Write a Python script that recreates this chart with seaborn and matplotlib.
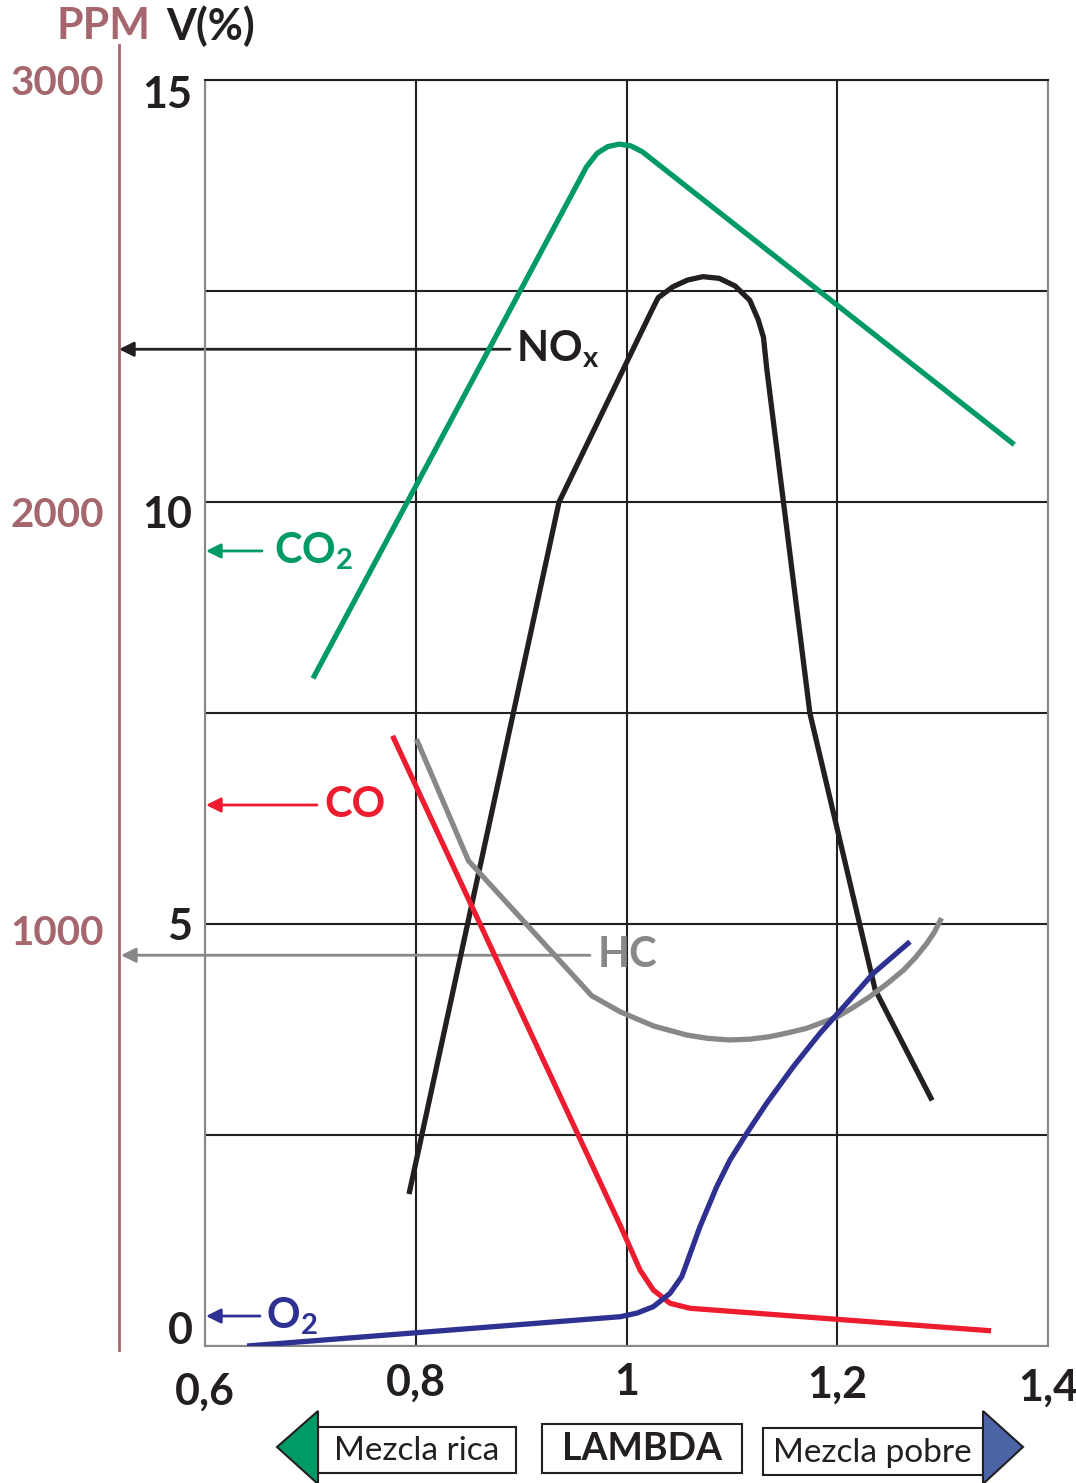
import matplotlib
matplotlib.use("Agg")
import matplotlib.pyplot as plt
import matplotlib.transforms as mtransforms
import numpy as np
import pandas as pd
import seaborn as sns
from matplotlib.patches import Rectangle, Polygon

# ---------------- data ----------------
co2_x = [0.7025, 0.962, 0.972, 0.982, 0.993, 1.004, 1.015, 1.368]
co2_y = [7.91, 13.97, 14.13, 14.21, 14.24, 14.22, 14.15, 10.68]

nox_x = [0.7936, 0.936, 1.024, 1.030, 1.044, 1.058, 1.0726, 1.088, 1.103,
         1.117, 1.125, 1.130, 1.133, 1.174, 1.236, 1.290]
nox_y = [1.80, 10.0, 12.27, 12.42, 12.55, 12.63, 12.67, 12.65, 12.56,
         12.39, 12.16, 11.95, 11.59, 7.5, 4.22, 2.91]

hc_x = [0.8007, 0.850, 0.967, 0.994, 1.026, 1.057, 1.077, 1.098, 1.117, 1.136,
        1.153, 1.171, 1.185, 1.200, 1.215, 1.231, 1.247, 1.263, 1.274, 1.285,
        1.292, 1.299]
hc_y = [7.19, 5.75, 4.15, 3.96, 3.79, 3.685, 3.645, 3.626, 3.635, 3.665,
        3.71, 3.764, 3.83, 3.90, 4.01, 4.14, 4.29, 4.455, 4.60, 4.77,
        4.90, 5.07]

co_x = [0.778, 0.994, 1.004, 1.0128, 1.0255, 1.0413, 1.0603, 1.200, 1.346]
co_y = [7.23, 1.43, 1.15, 0.90, 0.663, 0.506, 0.447, 0.316, 0.18]

o2_x = [0.640, 0.994, 1.010, 1.0255, 1.0413, 1.0524, 1.0571, 1.0697, 1.0856,
        1.0982, 1.1141, 1.133, 1.1583, 1.1836, 1.209, 1.2342, 1.269]
o2_y = [0.0, 0.347, 0.39, 0.466, 0.624, 0.821, 0.98, 1.414, 1.888,
        2.204, 2.52, 2.876, 3.31, 3.705, 4.06, 4.416, 4.79]

x_ticks = [0.6, 0.8, 1.0, 1.2, 1.4]
x_ticklabels = ["0,6", "0,8", "1", "1,2", "1,4"]
y_ticks = [0, 2.5, 5, 7.5, 10, 12.5, 15]
y_ticklabels = ["0", "", "5", "", "10", "", "15"]
ppm_ticks = [1000, 2000, 3000]
ppm_ticklabels = ["1000", "2000", "3000"]

label_names = ["NO$_\\mathregular{x}$", "CO$_\\mathregular{2}$", "CO", "HC", "O$_\\mathregular{2}$"]
label_levels = [11.81, 9.42, 6.41, 4.63, 0.355]

# ---------------- style ----------------
sns.set_theme(style="white")
plt.rcParams["font.family"] = ["Lato", "DejaVu Sans"]
plt.rcParams["mathtext.fontset"] = "custom"
plt.rcParams["mathtext.rm"] = "Lato:bold"
plt.rcParams["mathtext.it"] = "Lato:bold"
plt.rcParams["mathtext.bf"] = "Lato:bold"

GREEN = "#009a66"
RED = "#ed1c2e"
BLUE = "#2e3192"
GRAY = "#888888"
BLACK = "#231f20"
ROSE = "#a5676d"

W, H = 1076, 1483
fig = plt.figure(figsize=(W / 100, H / 100), dpi=100)

def fx(px):
    return px / W

def fy(py):
    return 1 - py / H

ax = fig.add_axes([fx(205), fy(1346), fx(1048) - fx(205), fy(80) - fy(1346)])

df = pd.concat([
    pd.DataFrame({"lam": co2_x, "val": co2_y, "gas": "CO2"}),
    pd.DataFrame({"lam": nox_x, "val": nox_y, "gas": "NOx"}),
    pd.DataFrame({"lam": hc_x, "val": hc_y, "gas": "HC"}),
    pd.DataFrame({"lam": co_x, "val": co_y, "gas": "CO"}),
    pd.DataFrame({"lam": o2_x, "val": o2_y, "gas": "O2"}),
], ignore_index=True)
palette = {"CO2": GREEN, "NOx": BLACK, "HC": GRAY, "CO": RED, "O2": BLUE}

ax.set_xlim(0.6, 1.4)
ax.set_ylim(0, 15)
ax.set_xticks(x_ticks)
ax.set_xticklabels(x_ticklabels)
ax.set_yticks(y_ticks)
ax.set_yticklabels(y_ticklabels)
ax.grid(True, color=BLACK, linewidth=1.5, zorder=0)
ax.set_axisbelow(True)
for side in ["left", "bottom", "right"]:
    ax.spines[side].set_color(GRAY)
    ax.spines[side].set_linewidth(1.5)
ax.spines["top"].set_color(BLACK)
ax.spines["top"].set_linewidth(1.5)
ax.tick_params(axis="both", length=0, labelsize=31, colors=BLACK)
ax.tick_params(axis="x", pad=14)
ax.tick_params(axis="y", pad=9)
for t in ax.get_xticklabels() + ax.get_yticklabels():
    t.set_fontweight("bold")

# per-label vertical nudges (pixels, +down) to mimic reference placement
y_nudge = {"0": -18, "5": 0, "10": 9, "15": 12}
x_nudge = {"0,6": 6, "0,8": -3, "1": -3, "1,2": -1, "1,4": 2}
for t in ax.get_yticklabels():
    dy = y_nudge.get(t.get_text(), 0)
    t.set_transform(t.get_transform() + mtransforms.ScaledTranslation(0, -dy / 100, fig.dpi_scale_trans))
for t in ax.get_xticklabels():
    dy = x_nudge.get(t.get_text(), 0)
    t.set_transform(t.get_transform() + mtransforms.ScaledTranslation(0, -dy / 100, fig.dpi_scale_trans))

# arrows + labels
px2x = lambda px: 0.6 + (px - 205) / 1053.75
arrow_tail_px = [510, 262, 317, 590, 260]
arrow_tip_px = [119, 206, 206, 121, 206]
text_px = [516, 274, 324, 598, 266]
label_colors = [BLACK, GREEN, RED, GRAY, BLUE]
for name, lev, tail, tip, tx, col in zip(label_names, label_levels, arrow_tail_px,
                                          arrow_tip_px, text_px, label_colors):
    ax.annotate("", xy=(px2x(tip), lev), xytext=(px2x(tail), lev),
                arrowprops=dict(arrowstyle="-|>", color=col, lw=2,
                                mutation_scale=22, shrinkA=0, shrinkB=0),
                annotation_clip=False, zorder=2)
    ax.text(px2x(tx), lev, name, color=col, fontsize=30, fontweight="bold",
            ha="left", va="center", zorder=3)

sns.lineplot(data=df, x="lam", y="val", hue="gas", palette=palette, sort=False,
             estimator=None, legend=False, ax=ax, zorder=4)
for ln in ax.get_lines():
    ln.set_linewidth(3.8)
    ln.set_solid_joinstyle("round")
    ln.set_solid_capstyle("butt")
ax.set_xlabel("")
ax.set_ylabel("")

# PPM axis
ax_ppm = fig.add_axes([fx(119), fy(1350), 0.0001, fy(45) - fy(1350)])
ax_ppm.set_ylim(-9.5, 3083)
ax_ppm.set_xticks([])
ax_ppm.set_yticks(ppm_ticks)
ax_ppm.set_yticklabels(ppm_ticklabels)
ax_ppm.patch.set_alpha(0)
for side in ["top", "bottom", "right"]:
    ax_ppm.spines[side].set_visible(False)
ax_ppm.spines["left"].set_color(ROSE)
ax_ppm.spines["left"].set_linewidth(2)
ax_ppm.tick_params(axis="y", length=0, pad=11, labelsize=29, colors=ROSE)
ppm_nudge = {"1000": 6, "2000": 10, "3000": 0}
for t in ax_ppm.get_yticklabels():
    t.set_fontweight("bold")
    dy = ppm_nudge.get(t.get_text(), 0)
    t.set_transform(t.get_transform() + mtransforms.ScaledTranslation(0, -dy / 100, fig.dpi_scale_trans))

fig.text(fx(151), fy(26), "PPM", color=ROSE, fontsize=31, fontweight="bold",
         ha="right", va="center")
fig.text(fx(166), fy(26), "V(%)", color=BLACK, fontsize=31, fontweight="bold",
         ha="left", va="center")

# bottom boxes (overlay in pixel coordinates)
ov = fig.add_axes([0, 0, 1, 1])
ov.set_xlim(0, W)
ov.set_ylim(H, 0)
ov.axis("off")
ov.add_patch(Rectangle((318, 1427), 198, 46, facecolor="white", edgecolor=BLACK, lw=1.5))
ov.add_patch(Polygon([(318, 1411), (318, 1484), (277, 1447)], closed=True,
                     facecolor=GREEN, edgecolor=BLACK, lw=1.5))
ov.text(417, 1451, "Mezcla rica", fontsize=24, fontweight="normal", color=BLACK,
        ha="center", va="center")
ov.add_patch(Rectangle((542, 1424), 200, 49, facecolor="white", edgecolor=BLACK, lw=1.5))
ov.text(642, 1449, "LAMBDA", fontsize=27, fontweight="bold", color=BLACK,
        ha="center", va="center")
ov.add_patch(Rectangle((763, 1428), 220, 47, facecolor="white", edgecolor=BLACK, lw=1.5))
ov.add_patch(Polygon([(983, 1411), (983, 1484), (1023, 1447)], closed=True,
                     facecolor="#4a64a6", edgecolor=BLACK, lw=1.5))
ov.text(872, 1453, "Mezcla pobre", fontsize=24, fontweight="normal", color=BLACK,
        ha="center", va="center")

fig.savefig("out.png", dpi=100)
